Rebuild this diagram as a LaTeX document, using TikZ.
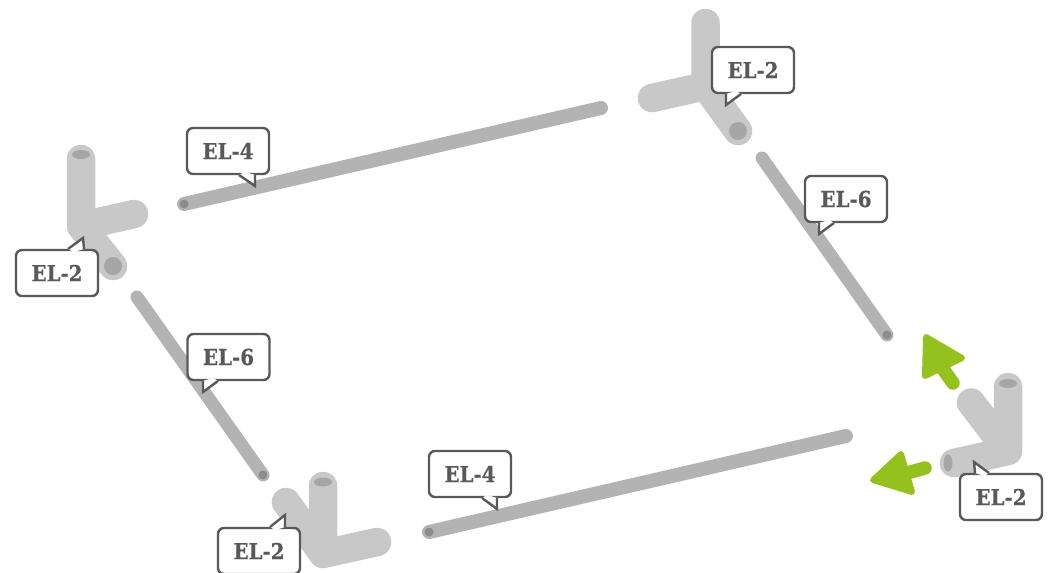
\documentclass[tikz,border=0pt]{standalone}
\usepackage{fontspec}
\usetikzlibrary{calc}
\setmainfont{DejaVu Serif Condensed}
\definecolor{jointgray}{HTML}{C8C8C8}
\definecolor{rodgray}{HTML}{B3B3B3}
\definecolor{holegray}{HTML}{A6A6A6}
\definecolor{rodhole}{HTML}{8C8C8C}
\definecolor{textgray}{HTML}{595959}
\definecolor{arrowgreen}{HTML}{95C11F}
\tikzset{
	rod/.style={line width=14pt, draw=rodgray, line cap=round},
	thinrod/.style={rod, line width=13pt},
	joint/.style={line width=28.5pt, draw=jointgray, line cap=round, line join=round},
	elbox/.style={draw=textgray, line width=2.4pt, fill=white, rounded corners=6pt, minimum width=82pt, minimum height=46pt, inner sep=0pt, text=textgray, font=\bfseries\fontsize{22}{22}\selectfont\addfontfeature{FakeBold=0.6}},
	elline/.style={draw=textgray, line width=2.4pt, line join=miter},
	bigarrow/.style={line width=13.5pt, draw=arrowgreen, line cap=round},
	bighead/.style={fill=arrowgreen, draw=arrowgreen, line width=6pt, line join=round}
}
\newcommand{\elpointer}[4]{
	\fill[white] (#2) -- (#3) -- (#4) -- ($(#2)!.5!(#4)!4pt!(#1.center)$) -- cycle;
	\draw[elline] (#2) -- (#3) -- (#4);
}
\begin{document}
\begin{tikzpicture}[x=1pt,y=-1pt]
	\useasboundingbox (0,0) rectangle (1050,573);
	%Rods
	\draw[rod] (184,204) -- (601,108); %Upper rod
	\draw[rod] (429,532) -- (846,436); %Lower rod
	\draw[thinrod] (762,158) -- (887,335); %Right rod
	\draw[thinrod] (137,297) -- (263,475); %Left rod
	\fill[rodhole] (184,204) circle (4.5);
	\fill[rodhole] (429,532) circle (4.5);
	\fill[rodhole] (887,335) circle (4.5);
	\fill[rodhole] (263,475) circle (4.5);
	%Joints
	\draw[joint] (81,159) -- (81,226) -- (134,214) (81,226) -- (113,266); %Left joint
	\fill[holegray] (81,154.5) ellipse (9 and 4.5);
	\fill[holegray] (113,266) circle (9);
	\draw[joint] (705.5,23) -- (705.5,86) -- (652,98) (705.5,86) -- (738,131); %Upper joint
	\fill[holegray] (738,131) circle (9);
	\draw[joint] (1008,387) -- (1008,451) -- (954,463) (1008,451) -- (971,402.5); %Right joint
	\fill[holegray] (1008,383.5) ellipse (9 and 4.5);
	\fill[holegray] (948,463) ellipse (4.5 and 8.5);
	\draw[joint] (323,486) -- (323,554) -- (377,542) (323,554) -- (286,502); %Lower joint
	\fill[holegray] (323,482) ellipse (9 and 4.5);
	%Green arrows
	\draw[bigarrow] (943,369) -- (953,383);
	\filldraw[bighead] (926,337) -- (962,358) -- (925,376) -- cycle;
	\draw[bigarrow] (907,473) -- (925,468);
	\filldraw[bighead] (873,480) -- (901,454) -- (912,492) -- cycle;
	%Labels
	\node[elbox] (upperlabel) at (228,151) {EL-4};
	\coordinate (upperA) at (239,175);
	\coordinate (upperT) at (255,186);
	\coordinate (upperB) at (255,175);
	\elpointer{upperlabel}{upperA}{upperT}{upperB}
	\node[elbox] (leftjoint) at (57,273) {EL-2};
	\coordinate (leftjA) at (68,249);
	\coordinate (leftjT) at (83,238);
	\coordinate (leftjB) at (84,249);
	\elpointer{leftjoint}{leftjA}{leftjT}{leftjB}
	\node[elbox] (upperjoint) at (753,70) {EL-2};
	\coordinate (upperjA) at (726,94);
	\coordinate (upperjT) at (726,105);
	\coordinate (upperjB) at (741,94);
	\elpointer{upperjoint}{upperjA}{upperjT}{upperjB}
	\node[elbox] (rightlabel) at (846,199) {EL-6};
	\coordinate (rightA) at (819,223);
	\coordinate (rightT) at (819,234);
	\coordinate (rightB) at (834,223);
	\elpointer{rightlabel}{rightA}{rightT}{rightB}
	\node[elbox] (rightjoint) at (1001,497) {EL-2};
	\coordinate (rightjA) at (975,473);
	\coordinate (rightjT) at (974,462);
	\coordinate (rightjB) at (989,473);
	\elpointer{rightjoint}{rightjA}{rightjT}{rightjB}
	\node[elbox] (lowerjoint) at (259,551) {EL-2};
	\coordinate (lowerjA) at (270,527);
	\coordinate (lowerjT) at (285,515);
	\coordinate (lowerjB) at (285,527);
	\elpointer{lowerjoint}{lowerjA}{lowerjT}{lowerjB}
	\node[elbox] (lowerlabel) at (470,474) {EL-4};
	\coordinate (lowerA) at (482,498);
	\coordinate (lowerT) at (497,509);
	\coordinate (lowerB) at (497,498);
	\elpointer{lowerlabel}{lowerA}{lowerT}{lowerB}
	\node[elbox] (leftlabel) at (228.5,357) {EL-6};
	\coordinate (leftA) at (203,381);
	\coordinate (leftT) at (203,392);
	\coordinate (leftB) at (218,381);
	\elpointer{leftlabel}{leftA}{leftT}{leftB}
\end{tikzpicture}
\end{document}
